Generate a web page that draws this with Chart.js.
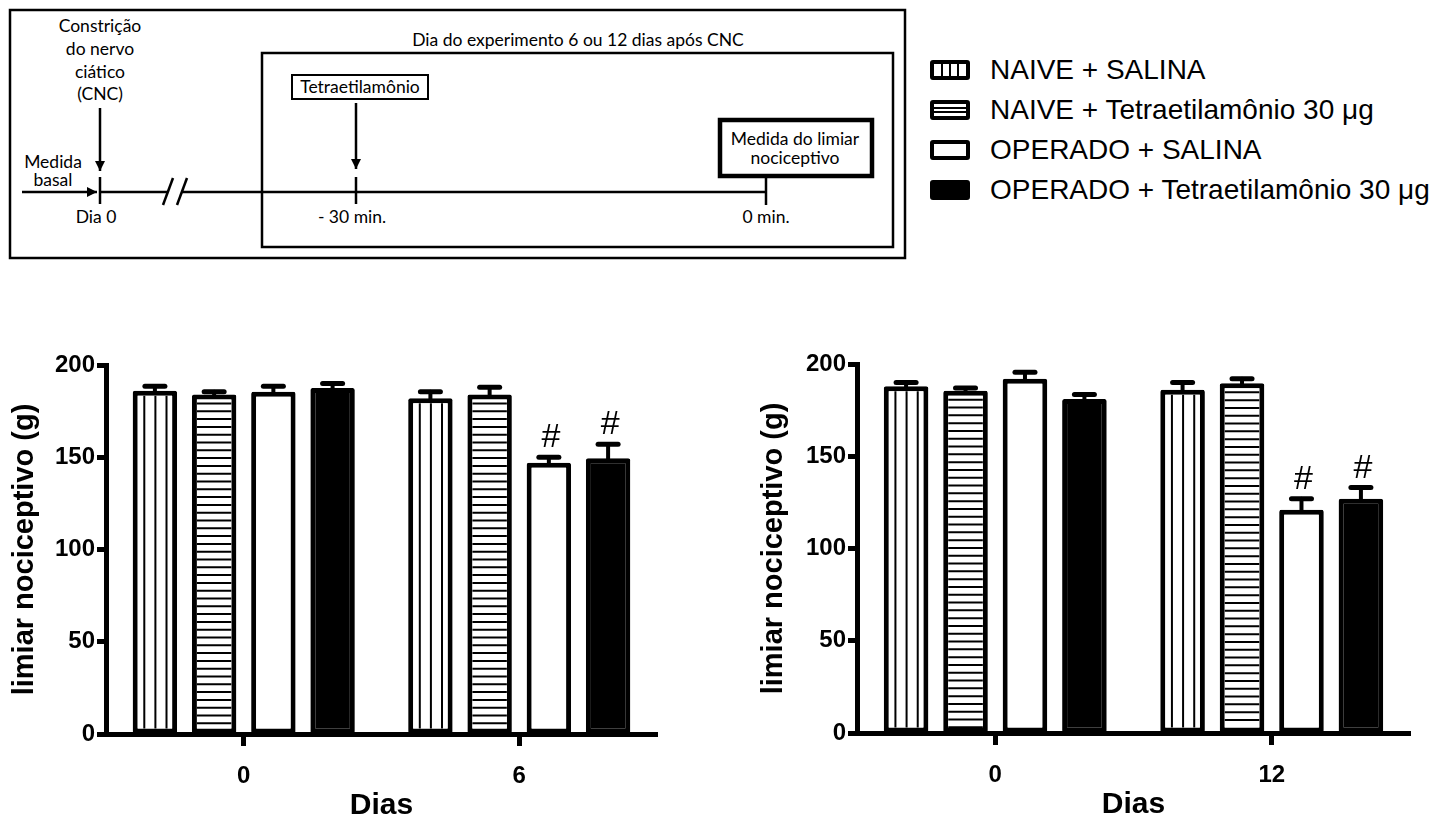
<!DOCTYPE html>
<html lang="pt">
<head>
<meta charset="utf-8">
<title>Limiar nociceptivo</title>
<script src="https://cdn.jsdelivr.net/npm/chart.js@4.4.1/dist/chart.umd.min.js"></script>
<style>
  html, body { margin: 0; padding: 0; background: #fff; }
  body { width: 1442px; height: 821px; position: relative; overflow: hidden; }
  #esquema { position: absolute; left: 0; top: 0; }
  #esquema text { font-family: Lato, 'Open Sans', sans-serif; font-size: 17.5px; fill: #000; }
  #legenda { position: absolute; left: 930px; top: 50px; font-family: 'Liberation Sans', Arial, sans-serif; font-size: 28px; color: #000; }
  .item { height: 40px; display: flex; align-items: center; white-space: nowrap; }
  .amostra { width: 32px; height: 12px; border: 4px solid #000; border-radius: 3px; margin-right: 20px; background: #fff; }
  .amostra.v { background: linear-gradient(90deg, #fff 0 7px, #000 7px 9px, #fff 9px 15px, #000 15px 17px, #fff 17px 23px, #000 23px 25px, #fff 25px); }
  .amostra.h { background: linear-gradient(#fff 0 3px, #000 3px 5px, #fff 5px 7px, #000 7px 9px, #fff 9px); }
  .amostra.p { background: #000; }
  #grafA { position: absolute; left: 0; top: 340px; }
  #grafB { position: absolute; left: 749px; top: 339px; }
</style>
</head>
<body>

<!-- ESQUEMA DO PROTOCOLO -->
<svg id="esquema" width="910" height="265">
  <defs>
    <marker id="seta" viewBox="0 0 10 10" refX="10" refY="5" markerWidth="4" markerHeight="4" orient="auto">
      <path d="M0,0 L10,5 L0,10 z" fill="#000"/>
    </marker>
  </defs>
  <rect x="10" y="10" width="895" height="248" fill="none" stroke="#000" stroke-width="2.5"/>
  <rect x="262" y="53" width="631" height="194" fill="none" stroke="#000" stroke-width="2.5"/>
  <text x="578" y="46" text-anchor="middle">Dia do experimento 6 ou 12 dias após CNC</text>

  <text x="100" y="32" text-anchor="middle">Constrição</text>
  <text x="100" y="55" text-anchor="middle">do nervo</text>
  <text x="100" y="78" text-anchor="middle">ciático</text>
  <text x="100" y="100" text-anchor="middle">(CNC)</text>
  <line x1="100" y1="108" x2="100" y2="171" stroke="#000" stroke-width="2.5" marker-end="url(#seta)"/>

  <text x="53" y="168" text-anchor="middle">Medida</text>
  <text x="53" y="186" text-anchor="middle">basal</text>
  <line x1="22" y1="192" x2="97" y2="192" stroke="#000" stroke-width="2.5" marker-end="url(#seta)"/>

  <line x1="100" y1="177" x2="100" y2="204" stroke="#000" stroke-width="2.5"/>
  <line x1="100" y1="192" x2="168" y2="192" stroke="#000" stroke-width="2.5"/>
  <line x1="163" y1="205" x2="173" y2="178" stroke="#000" stroke-width="2.5"/>
  <line x1="177" y1="205" x2="187" y2="178" stroke="#000" stroke-width="2.5"/>
  <line x1="182" y1="192" x2="767" y2="192" stroke="#000" stroke-width="2.5"/>
  <text x="96" y="223" text-anchor="middle">Dia 0</text>

  <rect x="292" y="75" width="136" height="24" fill="#fff" stroke="#000" stroke-width="2"/>
  <text x="360" y="93" text-anchor="middle">Tetraetilamônio</text>
  <line x1="356" y1="103" x2="356" y2="169" stroke="#000" stroke-width="2.5" marker-end="url(#seta)"/>
  <line x1="356" y1="177" x2="356" y2="204" stroke="#000" stroke-width="2.5"/>
  <text x="352" y="223" text-anchor="middle">- 30 min.</text>

  <rect x="720" y="120" width="152" height="56" fill="#fff" stroke="#000" stroke-width="4.5"/>
  <text x="795" y="145" text-anchor="middle">Medida do limiar</text>
  <text x="795" y="164" text-anchor="middle">nociceptivo</text>
  <line x1="766" y1="178" x2="766" y2="205" stroke="#000" stroke-width="2.5"/>
  <text x="766" y="223" text-anchor="middle">0 min.</text>
</svg>

<div id="legenda"></div>

<canvas id="grafA" width="680" height="481"></canvas>
<canvas id="grafB" width="684" height="481"></canvas>

<script>
// DADOS
const grupos = ['NAIVE + SALINA', 'NAIVE + Tetraetilamônio 30 μg', 'OPERADO + SALINA', 'OPERADO + Tetraetilamônio 30 μg'];
const padroes = ['v', 'h', 'b', 'p'];   // listras verticais, horizontais, branco, preto
const yTicks = [0, 50, 100, 150, 200];

// painel esquerdo : dias 0 e 6
const diasA = ['0', '6'];
const mediaA = [[186, 182], [184, 184], [185.5, 147], [187.5, 149.5]];
const epmA = [[2.5, 3.5], [1.5, 4], [3, 3], [2.5, 7.5]];
const sigA = [[false, false], [false, false], [false, true], [false, true]];

// painel direito : dias 0 e 12
const diasB = ['0', '12'];
const mediaB = [[188, 186], [185.5, 189.5], [192, 121], [181, 127]];
const epmB = [[2, 4], [1.5, 2.5], [3.5, 6], [2.5, 6]];
const sigB = [[false, false], [false, false], [false, true], [false, true]];

const FONTE = "'Liberation Sans', Arial, sans-serif";

// LEGENDA
const leg = document.getElementById('legenda');
grupos.forEach((g, i) => {
    leg.innerHTML += `<div class="item"><span class="amostra ${padroes[i]}"></span><span>${g}</span></div>`;
});

// PLUGIN : listras dentro das barras
const listrasPlugin = {
    id: 'listras',
    afterDatasetsDraw(chart) {
        const ctx = chart.ctx;
        ctx.save();
        ctx.strokeStyle = '#000';
        ctx.lineWidth = 2;
        chart.data.datasets.forEach((ds, i) => {
            chart.getDatasetMeta(i).data.forEach(el => {
                const { x, y, base, width } = el.getProps(['x', 'y', 'base', 'width'], true);
                const esq = x - width / 2, bw = 5;
                ctx.beginPath();
                if (ds.padrao === 'v') {
                    for (let k = 1; k <= 3; k++) {
                        const xx = esq + width * k / 4 + 0.5;
                        ctx.moveTo(xx, y + bw);
                        ctx.lineTo(xx, base - bw);
                    }
                } else if (ds.padrao === 'h') {
                    for (let yy = y + bw + 4; yy < base - bw; yy += 7.8) {
                        ctx.moveTo(esq + bw, yy);
                        ctx.lineTo(esq + width - bw, yy);
                    }
                }
                ctx.stroke();
            });
        });
        ctx.restore();
    }
};

// PLUGIN : barras de erro (EPM) e marcas #
const errosPlugin = {
    id: 'erros',
    afterDatasetsDraw(chart) {
        const ctx = chart.ctx;
        const yScale = chart.scales.y;
        ctx.save();
        ctx.strokeStyle = '#000';
        ctx.fillStyle = '#000';
        ctx.lineCap = 'round';
        chart.data.datasets.forEach((ds, i) => {
            chart.getDatasetMeta(i).data.forEach((el, j) => {
                const yTopo = yScale.getPixelForValue(ds.data[j] + ds.erro[j]);
                ctx.lineWidth = 4;
                ctx.beginPath();
                ctx.moveTo(el.x, el.y);
                ctx.lineTo(el.x, yTopo);
                ctx.stroke();
                ctx.lineWidth = 5;
                ctx.beginPath();
                ctx.moveTo(el.x - 10, yTopo);
                ctx.lineTo(el.x + 10, yTopo);
                ctx.stroke();
                if (ds.sig[j]) {
                    ctx.font = '34px ' + FONTE;
                    ctx.textAlign = 'center';
                    ctx.textBaseline = 'alphabetic';
                    ctx.fillText('#', el.x + 2, yTopo - 10);
                }
            });
        });
        ctx.restore();
    }
};

// CRIAÇÃO DOS GRÁFICOS
function criarGrafico(id, dias, medias, epms, sigs, larguraY) {
    return new Chart(document.getElementById(id), {
        type: 'bar',
        data: {
            labels: dias,
            datasets: grupos.map((g, i) => ({
                label: g,
                data: medias[i],
                erro: epms[i],
                sig: sigs[i],
                padrao: padroes[i],
                backgroundColor: padroes[i] === 'p' ? '#000' : '#fff',
                borderColor: '#000',
                borderWidth: 5,
                borderSkipped: false,
                borderRadius: 2,
                categoryPercentage: 0.86,
                barPercentage: 0.75
            }))
        },
        options: {
            responsive: false,
            animation: false,
            events: [],
            layout: { padding: { top: 25, right: 23, left: 0, bottom: 0 } },
            plugins: { legend: { display: false }, tooltip: { enabled: false } },
            scales: {
                x: {
                    grid: { drawOnChartArea: false, offset: false, tickLength: 12, tickWidth: 5, tickColor: '#000' },
                    border: { display: true, color: '#000', width: 5 },
                    ticks: { color: '#000', padding: 16, font: { family: FONTE, size: 24, weight: 'bold' } },
                    title: { display: true, text: 'Dias', color: '#000', padding: 0,
                             font: { family: FONTE, size: 30, weight: 'bold', lineHeight: 1 } },
                    afterFit: s => { s.height = 87; }
                },
                y: {
                    min: 0,
                    max: 200,
                    afterBuildTicks: s => { s.ticks = yTicks.map(v => ({ value: v })); },
                    grid: { drawOnChartArea: false, tickLength: 9, tickWidth: 5, tickColor: '#000' },
                    border: { display: true, color: '#000', width: 5 },
                    ticks: { color: '#000', padding: 2, font: { family: FONTE, size: 24, weight: 'bold' } },
                    title: { display: true, text: 'limiar nociceptivo (g)', color: '#000', padding: { top: 8, bottom: 0 },
                             font: { family: FONTE, size: 29, weight: 'bold' } },
                    afterFit: s => { s.width = larguraY; }
                }
            }
        },
        plugins: [listrasPlugin, errosPlugin]
    });
}

criarGrafico('grafA', diasA, mediaA, epmA, sigA, 106);
criarGrafico('grafB', diasB, mediaB, epmB, sigB, 108);
</script>
</body>
</html>
